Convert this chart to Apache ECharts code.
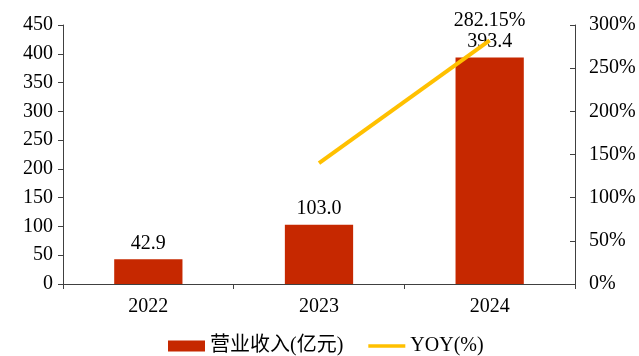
<!DOCTYPE html>
<html>
<head>
<meta charset="utf-8">
<script src="https://cdn.jsdelivr.net/npm/echarts@6/dist/echarts.min.js"></script>
<style>html,body{margin:0;padding:0;background:#fff;}#c{width:639px;height:356px;}</style>
</head>
<body>
<div id="c"></div>
<script>
const categories = ['2022', '2023', '2024'];
const revenue = [42.9, 103.0, 393.4];
const yoy = [null, 140.1, 282.15];
const leftTicks = {min: 0, max: 450, interval: 50};
const rightTicks = {min: 0, max: 300, interval: 50};

const FONT = '"Liberation Serif", "Times New Roman", "Noto Sans CJK SC", serif';
const chart = echarts.init(document.getElementById('c'), null, {renderer: 'canvas'});
chart.setOption({
  animation: false,
  textStyle: {fontFamily: FONT},
  grid: {left: 63, right: 64, top: 25, bottom: 72},
  legend: {
    top: 336,
    left: 163,
    padding: [0, 5],
    itemGap: 25,
    itemWidth: 37,
    itemHeight: 11,
    textStyle: {fontFamily: FONT, fontSize: 20, color: '#000'},
    data: [
      {name: '营业收入(亿元)', icon: 'rect'},
      {name: 'YOY(%)', icon: 'path://M0,0h40v4h-40z', itemStyle: {color: '#FFC000'}}
    ]
  },
  xAxis: {
    type: 'category',
    data: categories,
    axisLine: {lineStyle: {color: '#404040', width: 1}},
    axisTick: {show: true, length: 5, lineStyle: {color: '#404040'}},
    axisLabel: {fontFamily: FONT, fontSize: 20, color: '#000', margin: 13}
  },
  yAxis: [
    {
      type: 'value',
      min: leftTicks.min, max: leftTicks.max, interval: leftTicks.interval,
      splitLine: {show: false},
      axisLine: {show: true, lineStyle: {color: '#404040'}},
      axisTick: {show: true, length: 5, lineStyle: {color: '#404040'}},
      axisLabel: {fontFamily: FONT, fontSize: 20, color: '#000', margin: 10}
    },
    {
      type: 'value',
      position: 'right',
      min: rightTicks.min, max: rightTicks.max, interval: rightTicks.interval,
      splitLine: {show: false},
      axisLine: {show: true, lineStyle: {color: '#404040'}},
      axisTick: {show: true, inside: true, length: 5, lineStyle: {color: '#404040'}},
      axisLabel: {fontFamily: FONT, fontSize: 20, color: '#000', margin: 14, formatter: '{value}%'}
    }
  ],
  series: [
    {
      name: '营业收入(亿元)',
      type: 'bar',
      data: revenue,
      barWidth: '40%',
      itemStyle: {color: '#C62800'},
      label: {show: true, position: 'top', distance: 6, fontFamily: FONT, fontSize: 20, color: '#000',
        formatter: p => p.value.toFixed(1)}
    },
    {
      name: 'YOY(%)',
      type: 'line',
      yAxisIndex: 1,
      data: yoy,
      symbol: 'circle',
      symbolSize: 0.1,
      showSymbol: true,
      z: 5,
      lineStyle: {color: '#FFC000', width: 4},
      itemStyle: {color: '#FFC000'},
      label: {show: true, position: 'top', distance: 10, fontFamily: FONT, fontSize: 20, color: '#000',
        formatter: p => (p.dataIndex === yoy.length - 1 ? p.value.toFixed(2) + '%' : '')}
    }
  ]
});
</script>
</body>
</html>
